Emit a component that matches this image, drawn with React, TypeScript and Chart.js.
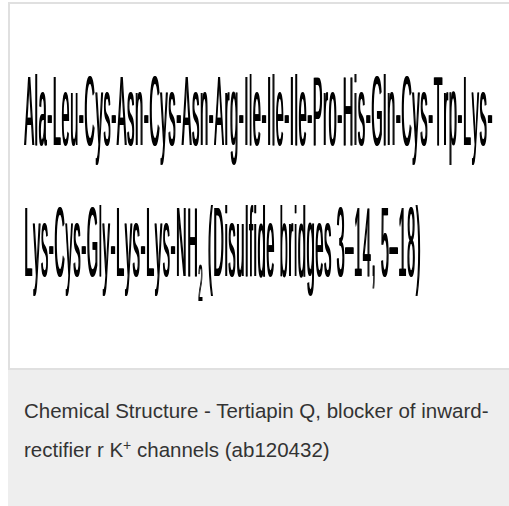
import React, { useEffect, useRef } from "react";
import { Chart, registerables } from "chart.js";

Chart.register(...registerables);

// Peptide sequence text, split into segments: [text, sizeFactor, baselineShift]
const line1Segments: [string, number, number][] = [
  ["Ala-Leu-Cys-Asn-Cys-Asn-Arg-Ile-Ile-Ile-Pro-His-Gln-Cys-Trp-Lys-", 1, 0],
];
const line2Segments: [string, number, number][] = [
  ["Lys-Cys-Gly-Lys-Lys-NH", 1, 0],
  ["2", 0.52, 0.25],
  [" (Disulfide bridges 3\u201314, 5\u201318)", 1, 0],
];
const sequenceLines = [line1Segments, line2Segments];
const captionLine1 = "Chemical Structure - Tertiapin Q, blocker of inward-";
const captionLine2Before = "rectifier r K";
const captionLine2Sup = "+";
const captionLine2After = " channels (ab120432)";

const FONT = "'Liberation Sans', Arial, Helvetica, sans-serif";

const textPlugin = {
  id: "sequenceText",
  afterDraw(chart: any) {
    const ctx: CanvasRenderingContext2D = chart.ctx;
    const fontSize = 99;
    const left = 14;
    const targetWidth = 468;
    const spacing = 0.7; // device px between glyphs
    const baselines = [141, 272];
    ctx.save();
    ctx.fillStyle = "#000";
    ctx.textBaseline = "alphabetic";
    ctx.textAlign = "left";
    const countChars = (segs: [string, number, number][]) =>
      segs.reduce((n, [t]) => n + Array.from(t).length, 0);
    const measure = (segs: [string, number, number][]) => {
      let w = 0;
      for (const [t, f] of segs) {
        ctx.font = `${Math.round(fontSize * f)}px ${FONT}`;
        for (const ch of Array.from(t)) w += ctx.measureText(ch).width;
      }
      return w;
    };
    const first = sequenceLines[0];
    const sx = (targetWidth - spacing * (countChars(first) - 1)) / measure(first);
    const emboldenOffsets = [0, 0.7];
    sequenceLines.forEach((segs, i) => {
      for (const off of emboldenOffsets) {
        let x = left + off;
        for (const [t, f, shift] of segs) {
          ctx.font = `${Math.round(fontSize * f)}px ${FONT}`;
          for (const ch of Array.from(t)) {
            ctx.save();
            ctx.translate(x, baselines[i]);
            ctx.scale(sx, 1);
            ctx.fillText(ch, 0, shift * fontSize);
            ctx.restore();
            x += ctx.measureText(ch).width * sx + spacing;
          }
        }
      }
    });
    ctx.restore();
  },
};

export default function App() {
  const canvasRef = useRef<HTMLCanvasElement | null>(null);

  useEffect(() => {
    if (!canvasRef.current) return;
    const chart = new Chart(canvasRef.current, {
      type: "scatter",
      data: { datasets: [] },
      options: {
        animation: false,
        responsive: true,
        maintainAspectRatio: false,
        layout: { padding: 0 },
        scales: { x: { display: false }, y: { display: false } },
        plugins: { legend: { display: false }, tooltip: { enabled: false } },
      },
      plugins: [textPlugin],
    });
    return () => chart.destroy();
  }, []);

  return (
    <div style={{ position: "fixed", inset: 0, overflow: "hidden", background: "#fff" }}>
      <div style={{ position: "absolute", left: 8, top: 2, width: 520 }}>
        <div
          style={{
            border: "2px solid #e0e0e0",
            height: 364,
            background: "#fff",
            position: "relative",
          }}
        >
          <canvas ref={canvasRef} />
        </div>
        <div
          style={{
            background: "#eeeeee",
            height: 140,
            boxSizing: "border-box",
            paddingTop: 21,
            paddingLeft: 16,
            fontFamily: FONT,
            fontSize: 20.5,
            lineHeight: "39px",
            color: "#333",
            whiteSpace: "nowrap",
          }}
        >
          <div>{captionLine1}</div>
          <div>
            {captionLine2Before}
            <sup style={{ fontSize: 14, lineHeight: 0, verticalAlign: "7px" }}>{captionLine2Sup}</sup>
            {captionLine2After}
          </div>
        </div>
      </div>
    </div>
  );
}
